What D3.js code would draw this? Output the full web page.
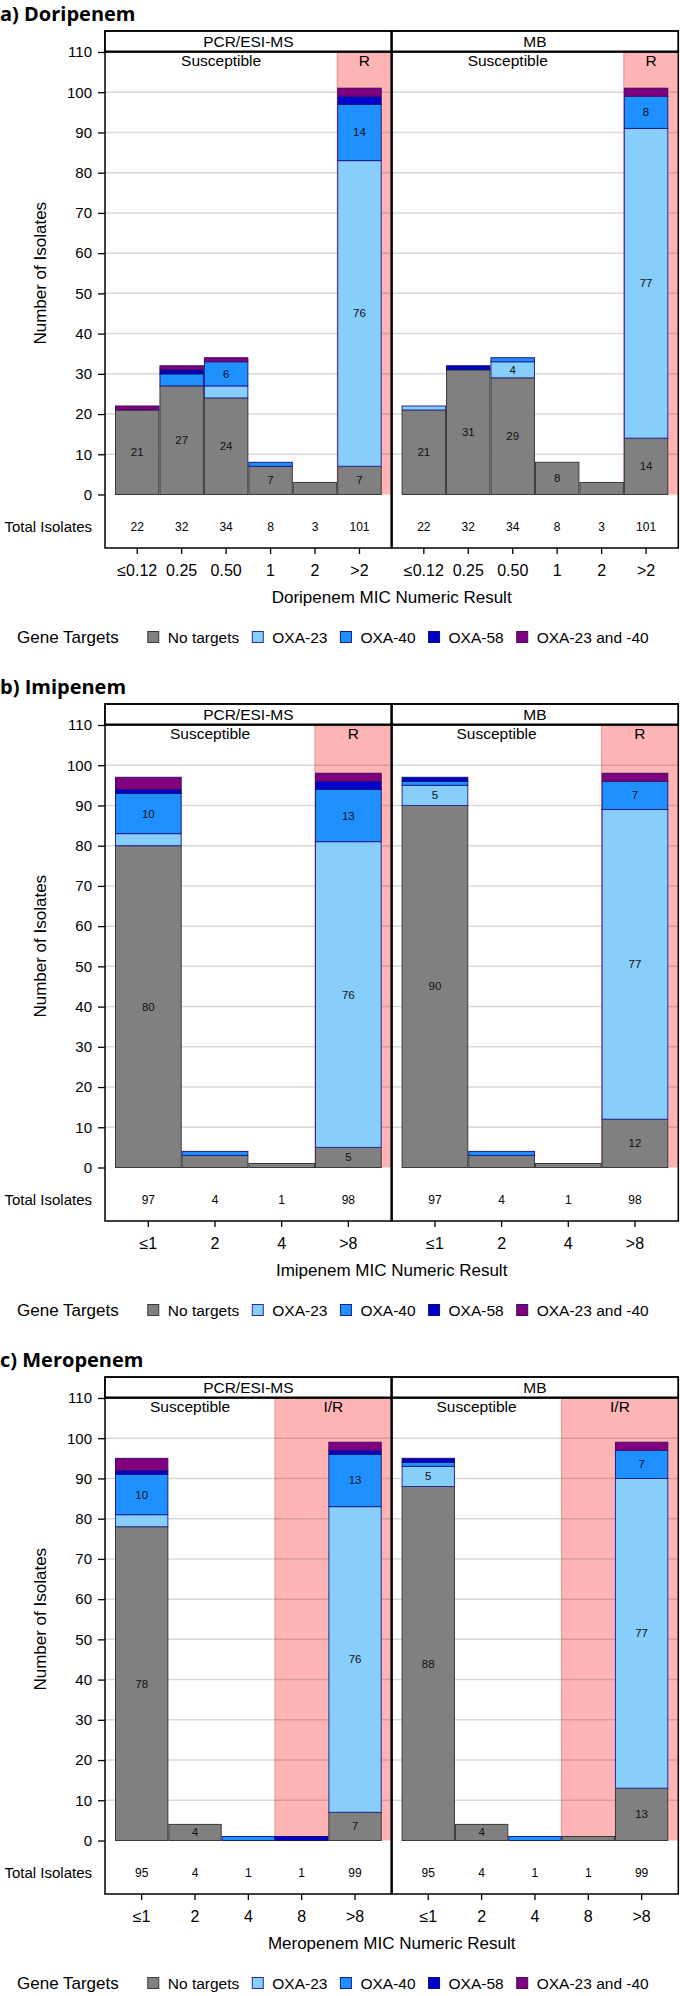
<!DOCTYPE html>
<html><head><meta charset="utf-8">
<script src="https://cdn.jsdelivr.net/npm/d3@7"></script>
<style>
html,body{margin:0;padding:0;background:#fff;}
svg{display:block;}
</style></head><body>
<svg id="chart" width="680" height="1996"></svg>
<script>
// ---------- data ----------
const seriesNames = ["No targets", "OXA-23", "OXA-40", "OXA-58", "OXA-23 and -40"];
const seriesColors = ["#808080", "#87CEFA", "#1E90FF", "#0000CD", "#800080"];
const seriesStrokes = ["#3a3a3a", "#2a2a96", "#1c1c8c", "#10106a", "#3c1060"];
const facetNames = ["PCR/ESI-MS", "MB"];
const yTickValues = [0, 10, 20, 30, 40, 50, 60, 70, 80, 90, 100, 110];

// a) Doripenem
const doriCats = ["≤0.12", "0.25", "0.50", "1", "2", ">2"];
const doriPcrNone  = [21, 27, 24, 7, 3, 7];
const doriPcrOxa23 = [0, 0, 3, 0, 0, 76];
const doriPcrOxa40 = [0, 3, 6, 1, 0, 14];
const doriPcrOxa58 = [0, 1, 0, 0, 0, 2];
const doriPcrBoth  = [1, 1, 1, 0, 0, 2];
const doriMbNone  = [21, 31, 29, 8, 3, 14];
const doriMbOxa23 = [1, 0, 4, 0, 0, 77];
const doriMbOxa40 = [0, 0, 1, 0, 0, 8];
const doriMbOxa58 = [0, 1, 0, 0, 0, 0];
const doriMbBoth  = [0, 0, 0, 0, 0, 2];

// b) Imipenem
const imiCats = ["≤1", "2", "4", ">8"];
const imiPcrNone  = [80, 3, 1, 5];
const imiPcrOxa23 = [3, 0, 0, 76];
const imiPcrOxa40 = [10, 1, 0, 13];
const imiPcrOxa58 = [1, 0, 0, 2];
const imiPcrBoth  = [3, 0, 0, 2];
const imiMbNone  = [90, 3, 1, 12];
const imiMbOxa23 = [5, 0, 0, 77];
const imiMbOxa40 = [1, 1, 0, 7];
const imiMbOxa58 = [1, 0, 0, 0];
const imiMbBoth  = [0, 0, 0, 2];

// c) Meropenem
const meroCats = ["≤1", "2", "4", "8", ">8"];
const meroPcrNone  = [78, 4, 0, 0, 7];
const meroPcrOxa23 = [3, 0, 0, 0, 76];
const meroPcrOxa40 = [10, 0, 1, 0, 13];
const meroPcrOxa58 = [1, 0, 0, 1, 1];
const meroPcrBoth  = [3, 0, 0, 0, 2];
const meroMbNone  = [88, 4, 0, 1, 13];
const meroMbOxa23 = [5, 0, 0, 0, 77];
const meroMbOxa40 = [1, 0, 1, 0, 7];
const meroMbOxa58 = [1, 0, 0, 0, 0];
const meroMbBoth  = [0, 0, 0, 0, 2];

const panelTitles = ["a) Doripenem", "b) Imipenem", "c) Meropenem"];
const axisTitles = ["Doripenem MIC Numeric Result", "Imipenem MIC Numeric Result", "Meropenem MIC Numeric Result"];
const susceptibleLabel = "Susceptible";
const resistantLabels = ["R", "R", "I/R"];
const resistantCats = [[">2"], [">8"], ["8", ">8"]];

const panels = [
  {cats: doriCats, facets: [[doriPcrNone, doriPcrOxa23, doriPcrOxa40, doriPcrOxa58, doriPcrBoth],
                            [doriMbNone, doriMbOxa23, doriMbOxa40, doriMbOxa58, doriMbBoth]]},
  {cats: imiCats, facets: [[imiPcrNone, imiPcrOxa23, imiPcrOxa40, imiPcrOxa58, imiPcrBoth],
                           [imiMbNone, imiMbOxa23, imiMbOxa40, imiMbOxa58, imiMbBoth]]},
  {cats: meroCats, facets: [[meroPcrNone, meroPcrOxa23, meroPcrOxa40, meroPcrOxa58, meroPcrBoth],
                            [meroMbNone, meroMbOxa23, meroMbOxa40, meroMbOxa58, meroMbBoth]]}
];

// ---------- layout ----------
const FONT = '"Liberation Sans", Arial, sans-serif';
const PANEL_DY = 673;
const FACET_X = [105, 391.6];
const FACET_W = 286.7;
const PAD = 10;
const STRIP_TOP = 31, Y110 = 52, Y0 = 494.5, TABLE_BOTTOM = 548;

const svg = d3.select("#chart");
const y = d3.scaleLinear().domain([0, 110]).range([Y0, Y110]);

panels.forEach((p, pi) => {
  const g = svg.append("g").attr("transform", `translate(0,${pi * PANEL_DY})`);

  g.append("text").attr("x", 0).attr("y", 21)
    .attr("font-family", '"Open Sans", sans-serif').attr("font-weight", 700)
    .attr("font-size", 20).attr("fill", "#000").text(panelTitles[pi]);

  p.facets.forEach((arrs, fi) => {
    const fx0 = FACET_X[fi], fx1 = fx0 + FACET_W;
    const x = d3.scaleBand().domain(p.cats).range([fx0 + PAD, fx1 - PAD]).paddingInner(0).paddingOuter(0);
    const fg = g.append("g");

    // resistant band
    const rStart = x(resistantCats[pi][0]);
    fg.append("rect").attr("x", rStart).attr("y", y(110)).attr("width", fx1 - rStart)
      .attr("height", y(0) - y(110)).attr("fill", "#ffb5b5");
    fg.append("line").attr("x1", rStart).attr("x2", rStart).attr("y1", y(110)).attr("y2", y(0))
      .attr("stroke", "#f08a8a").attr("stroke-width", 1);

    // gridlines
    fg.selectAll("line.grid").data(yTickValues.filter(v => v > 0)).join("line")
      .attr("class", "grid").attr("x1", fx0).attr("x2", fx1)
      .attr("y1", d => y(d)).attr("y2", d => y(d))
      .attr("stroke", "#000").attr("stroke-opacity", 0.15).attr("stroke-width", 1.5);

    // bars
    const rows = p.cats.map((c, i) => {
      const r = {cat: c};
      seriesNames.forEach((s, j) => r[s] = arrs[j][i]);
      return r;
    });
    const layers = d3.stack().keys(seriesNames)(rows);
    layers.forEach((layer, li) => {
      fg.append("g").selectAll("rect").data(layer.filter(d => d[1] > d[0])).join("rect")
        .attr("x", d => x(d.data.cat) + 0.5).attr("width", x.bandwidth() - 1)
        .attr("y", d => y(d[1])).attr("height", d => y(d[0]) - y(d[1]))
        .attr("fill", seriesColors[li]).attr("stroke", seriesStrokes[li]).attr("stroke-width", 1);
    });
    layers.forEach((layer, li) => {
      fg.append("g").selectAll("text").data(layer.filter(d => d[1] - d[0] >= 4)).join("text")
        .attr("x", d => x(d.data.cat) + x.bandwidth() / 2)
        .attr("y", d => y((d[0] + d[1]) / 2) + 4)
        .attr("text-anchor", "middle").attr("font-family", FONT).attr("font-size", 11.5)
        .attr("fill", "#111").text(d => d[1] - d[0]);
    });

    // strip
    fg.append("rect").attr("x", fx0).attr("y", STRIP_TOP).attr("width", FACET_W)
      .attr("height", Y110 - STRIP_TOP).attr("fill", "#fff").attr("stroke", "#000").attr("stroke-width", 1.5);
    fg.append("line").attr("x1", fx0).attr("x2", fx1).attr("y1", Y110 - 0.5).attr("y2", Y110 - 0.5)
      .attr("stroke", "#000").attr("stroke-width", 2);
    fg.append("text").attr("x", (fx0 + fx1) / 2).attr("y", 46.5).attr("text-anchor", "middle")
      .attr("font-family", FONT).attr("font-size", 15.5).text(facetNames[fi]);

    // band labels
    fg.append("text").attr("x", (fx0 + rStart) / 2).attr("y", 65.5).attr("text-anchor", "middle")
      .attr("font-family", FONT).attr("font-size", 15.5).text(susceptibleLabel);
    fg.append("text").attr("x", (rStart + fx1) / 2).attr("y", 65.5).attr("text-anchor", "middle")
      .attr("font-family", FONT).attr("font-size", 15.5).text(resistantLabels[pi]);

    // totals
    fg.selectAll("text.tot").data(rows).join("text").attr("class", "tot")
      .attr("x", d => x(d.cat) + x.bandwidth() / 2).attr("y", 530.5)
      .attr("text-anchor", "middle").attr("font-family", FONT).attr("font-size", 12)
      .text(d => d3.sum(seriesNames, s => d[s]));

    // x axis
    const xa = fg.append("g").attr("transform", `translate(0,${TABLE_BOTTOM})`)
      .call(d3.axisBottom(x).tickSize(6).tickPadding(11));
    xa.select(".domain").remove();
    xa.selectAll("line").attr("stroke", "#000").attr("stroke-width", 1.3);
    xa.selectAll("text").attr("font-family", FONT).attr("font-size", 16).attr("fill", "#000");

    // frame
    fg.append("rect").attr("x", fx0).attr("y", STRIP_TOP).attr("width", FACET_W)
      .attr("height", TABLE_BOTTOM - STRIP_TOP).attr("fill", "none")
      .attr("stroke", "#000").attr("stroke-width", 1.5);
  });

  // divider emphasised
  g.append("line").attr("x1", FACET_X[1]).attr("x2", FACET_X[1]).attr("y1", STRIP_TOP).attr("y2", TABLE_BOTTOM)
    .attr("stroke", "#000").attr("stroke-width", 2.2);

  // y axis
  const ya = g.append("g").attr("transform", `translate(${FACET_X[0]},0)`)
    .call(d3.axisLeft(y).tickValues(yTickValues).tickSize(7).tickPadding(6));
  ya.select(".domain").remove();
  ya.selectAll("line").attr("stroke", "#000").attr("stroke-width", 1.3);
  ya.selectAll("text").attr("font-family", FONT).attr("font-size", 15).attr("fill", "#000");

  g.append("text").attr("transform", `translate(46,${(Y0 + Y110) / 2}) rotate(-90)`)
    .attr("text-anchor", "middle").attr("font-family", FONT).attr("font-size", 17).text("Number of Isolates");

  g.append("text").attr("x", 92).attr("y", 531.5).attr("text-anchor", "end")
    .attr("font-family", FONT).attr("font-size", 15).text("Total Isolates");

  g.append("text").attr("x", (FACET_X[0] + FACET_X[1] + FACET_W) / 2).attr("y", 603)
    .attr("text-anchor", "middle").attr("font-family", FONT).attr("font-size", 17).text(axisTitles[pi]);

  // legend
  const lg = g.append("g").attr("transform", "translate(0,637)");
  const lt = lg.append("text").attr("x", 17).attr("y", 6).attr("font-family", FONT).attr("font-size", 17).text("Gene Targets");
  let cx = 17 + lt.node().getComputedTextLength() + 29;
  seriesNames.forEach((s, i) => {
    lg.append("rect").attr("x", cx).attr("y", -5.5).attr("width", 11).attr("height", 11)
      .attr("fill", seriesColors[i]).attr("stroke", seriesStrokes[i]).attr("stroke-width", 1);
    const t = lg.append("text").attr("x", cx + 20).attr("y", 5.5).attr("font-family", FONT)
      .attr("font-size", 15.5).text(s);
    cx += 20 + t.node().getComputedTextLength() + 13;
  });
});
</script>
</body></html>
